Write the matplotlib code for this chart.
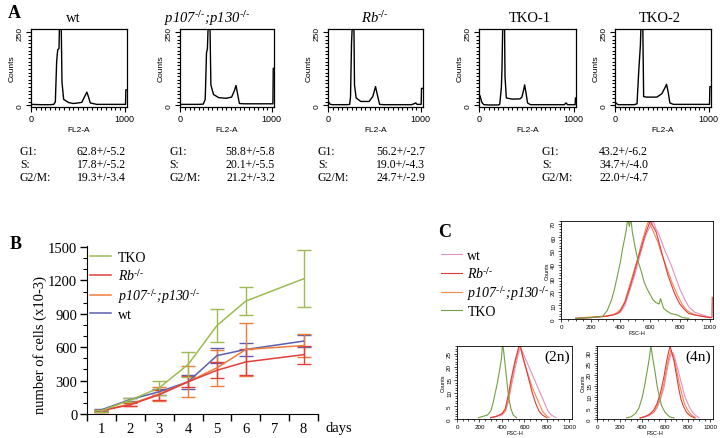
import matplotlib
matplotlib.use("Agg")
import matplotlib.pyplot as plt
from matplotlib.ticker import MultipleLocator, FixedLocator

plt.rcParams['font.family'] = ['Liberation Serif', 'DejaVu Serif']
plt.rcParams['mathtext.fontset'] = 'stix'

W, H = 720, 439

# ---------------- panel A: DNA content histograms (FL2-A) ----------------
sup = r'$^{\text{-/-}}$'
lab_rb = 'Rb' + sup
lab_p107 = 'p107' + sup + ';p130' + sup
hist_titles = ['wt', lab_p107, lab_rb, 'TKO-1', 'TKO-2']
title_italic = [False, True, True, False, False]

wt_fl_x = [0, 100, 200, 240, 256, 270, 281, 295, 302, 318, 327, 345, 400, 450, 500, 540, 570, 594, 615, 630, 700, 800, 900, 1008, 1012, 1024]
wt_fl_y = [3, 2, 2, 3, 12, 150, 190, 195, 300, 300, 80, 20, 9, 6, 8, 10, 30, 45, 25, 8, 3, 3, 3, 3, 53, 53]

p107_fl_x = [0, 100, 200, 250, 271, 285, 295, 306, 322, 333, 362, 420, 500, 560, 590, 608, 625, 645, 700, 800, 900, 1012, 1016, 1024]
p107_fl_y = [3, 3, 3, 4, 20, 180, 194, 300, 300, 70, 37, 26, 24, 28, 50, 68, 40, 6, 5, 5, 5, 5, 127, 127]

rb_fl_x = [0, 15, 40, 100, 200, 230, 239, 250, 262, 275, 282, 300, 350, 440, 480, 510, 530, 554, 600, 700, 900, 934, 945, 960, 1004, 1008, 1024]
rb_fl_y = [12, 4, 2, 2, 2, 3, 30, 216, 300, 300, 70, 25, 13, 13, 30, 64, 35, 3, 2, 2, 2, 6, 8, 3, 3, 58, 58]

tko1_fl_x = [0, 8, 25, 46, 100, 200, 215, 232, 239, 248, 265, 271, 285, 350, 430, 450, 470, 479, 495, 510, 540, 700, 900, 918, 935, 1015, 1018, 1024]
tko1_fl_y = [36, 30, 10, 2, 1, 1, 3, 60, 126, 300, 300, 98, 25, 21, 22, 28, 55, 70, 40, 8, 2, 2, 2, 8, 2, 2, 25, 25]

tko2_fl_x = [0, 10, 30, 100, 200, 231, 250, 267, 276, 292, 302, 330, 444, 498, 530, 548, 565, 583, 620, 800, 1008, 1012, 1024]
tko2_fl_y = [10, 6, 2, 2, 2, 5, 120, 205, 300, 300, 30, 28, 28, 40, 60, 72, 45, 8, 3, 3, 3, 64, 64]

hist_x = [wt_fl_x, p107_fl_x, rb_fl_x, tko1_fl_x, tko2_fl_x]
hist_y = [wt_fl_y, p107_fl_y, rb_fl_y, tko1_fl_y, tko2_fl_y]

phase_names = ['G1:', 'S:', 'G2/M:']
stats = [
    ['62.8+/-5.2', '17.8+/-5.2', '19.3+/-3.4'],
    ['58.8+/-5.8', '20.1+/-5.5', '21.2+/-3.2'],
    ['56.2+/-2.7', '19.0+/-4.3', '24.7+/-2.9'],
    ['43.2+/-6.2', '34.7+/-4.0', '22.0+/-4.7'],
]

# ---------------- panel B: growth curves ----------------
days = [1, 2, 3, 4, 5, 6, 8]
tko_cells = [30, 125, 235, 445, 795, 1015, 1215]
tko_err = [8, 15, 60, 115, 150, 125, 255]
rb_cells = [30, 83, 173, 289, 393, 468, 533]
rb_err = [8, 12, 45, 50, 70, 115, 80]
p107_cells = [30, 90, 180, 289, 415, 580, 615]
p107_err = [8, 15, 60, 140, 160, 240, 100]
wt_cells = [38, 130, 200, 289, 525, 580, 655]
wt_err = [8, 12, 25, 60, 65, 60, 55]

# ---------------- panel C: cell size (FSC-H) ----------------
tko_main_x = [100, 200, 280, 310, 340, 360, 380, 400, 415, 430, 440, 450, 460, 470, 480, 500, 520, 540, 560, 580, 600, 620, 640, 660, 670, 690, 710, 740, 780, 820, 860]
tko_main_y = [0.5, 1, 2, 6, 14, 22, 32, 42, 52, 60, 66, 74, 68, 74, 64, 52, 42, 35, 27, 22, 18, 14, 12, 11, 15, 8, 6, 4, 3, 1, 0.5]
rb_main_x = [100, 200, 300, 350, 380, 400, 430, 460, 490, 520, 540, 560, 580, 600, 620, 640, 660, 680, 700, 720, 740, 760, 780, 800, 830, 860, 900, 950, 1000, 1016, 1018]
rb_main_y = [0.5, 1, 2, 3, 4, 6, 12, 22, 33, 45, 52, 60, 66, 72, 68, 64, 56, 48, 40, 32, 26, 20, 15, 11, 7, 4, 3, 2, 1, 1, 16]
p107_main_x = [100, 200, 300, 350, 380, 400, 430, 460, 490, 520, 540, 560, 575, 590, 610, 630, 650, 670, 690, 710, 730, 750, 770, 790, 820, 850, 900, 950, 1000]
p107_main_y = [0.5, 1.5, 2, 3, 5, 7, 13, 24, 35, 46, 55, 62, 68, 72, 67, 62, 57, 50, 44, 38, 32, 26, 21, 16, 10, 6, 3, 2, 1]
wt_main_x = [100, 200, 300, 350, 380, 400, 430, 460, 490, 520, 540, 560, 580, 600, 620, 640, 660, 680, 700, 720, 740, 760, 780, 800, 830, 860, 900, 950, 1000]
wt_main_y = [0.5, 1, 2, 3, 4, 5, 10, 20, 30, 42, 50, 58, 64, 68, 72, 66, 62, 56, 50, 45, 40, 34, 28, 22, 15, 9, 5, 3, 1.5]

tko_2n_x = [190, 230, 270, 300, 320, 340, 360, 380, 395, 405, 415, 430, 445, 460, 480, 500, 530]
tko_2n_y = [0.5, 1, 1.5, 3, 6, 10, 14, 19, 23, 29, 26, 20, 14, 8, 4, 1.5, 0.5]
rb_2n_x = [300, 350, 400, 430, 460, 480, 500, 520, 540, 555, 570, 590, 610, 640, 670, 700, 730, 760, 800]
rb_2n_y = [0.5, 1, 2, 4, 10, 15, 19, 23, 26, 29, 27, 23, 20, 15, 10, 6, 3, 1.5, 0.5]
p107_2n_x = [300, 350, 400, 430, 460, 480, 500, 520, 540, 550, 565, 585, 610, 640, 670, 700, 730, 760, 790, 820]
p107_2n_y = [0.5, 1, 2, 3, 8, 13, 18, 22, 25, 28, 27, 24, 20, 16, 12, 9, 6, 3, 1.5, 0.5]
wt_2n_x = [300, 350, 400, 430, 460, 480, 500, 520, 540, 560, 580, 600, 630, 660, 690, 720, 750, 780, 810, 840, 880]
wt_2n_y = [0.5, 1, 1.5, 3, 7, 12, 16, 20, 24, 27, 26, 24, 21, 18, 15, 12, 9, 6, 3, 1.5, 0.5]

tko_4n_x = [260, 300, 340, 370, 400, 420, 440, 460, 475, 490, 510, 530, 550, 570, 600, 640, 680]
tko_4n_y = [0.5, 1, 2.5, 5, 10, 15, 21, 27, 33, 28, 22, 15, 10, 6, 3, 1, 0.5]
rb_4n_x = [380, 420, 460, 500, 530, 560, 590, 610, 630, 645, 660, 680, 700, 720, 740, 760, 790, 820, 860]
rb_4n_y = [0.5, 1, 2, 4, 7, 12, 19, 25, 30, 33, 30, 26, 20, 14, 9, 6, 3, 1.5, 0.5]
p107_4n_x = [380, 420, 460, 500, 530, 560, 590, 610, 630, 650, 670, 690, 710, 730, 750, 770, 800, 830, 870]
p107_4n_y = [0.5, 1, 2, 3, 6, 10, 16, 22, 27, 31, 29, 25, 20, 15, 11, 7, 4, 2, 0.5]
wt_4n_x = [380, 420, 460, 500, 530, 560, 590, 610, 630, 650, 670, 690, 710, 730, 750, 770, 800, 830, 860, 900]
wt_4n_y = [0.5, 1, 1.5, 3, 5, 9, 14, 20, 25, 29, 30, 27, 23, 19, 15, 11, 7, 4, 2, 0.5]

c_colors = {'wt': '#e690c0', 'rb': '#e23a3a', 'p107': '#f28a4e', 'tko': '#72a043'}
b_colors = {'tko': '#9dbb4f', 'rb': '#e0403a', 'p107': '#f07c3a', 'wt': '#5c5fb0'}

fig = plt.figure(figsize=(7.2, 4.39), dpi=100)


def add_ax(l, t, r, b):
    return fig.add_axes([l / W, 1 - b / H, (r - l) / W, (b - t) / H])


def ftext(x, y, s, **kw):
    return fig.text(x / W, 1 - y / H, s, **kw)


sans = ['Liberation Sans', 'DejaVu Sans']

# panel A
boxes = [(31, 127), (180, 274), (328, 423), (479, 576), (615, 711)]
title_x = [73, 207, 375, 530, 660]
for i, (l, r) in enumerate(boxes):
    ax = add_ax(l, 30, r, 108)
    ax.plot(hist_x[i], hist_y[i], color='black', lw=1.0)
    ax.set_xlim(-5, 1024)
    ax.set_ylim(-6, 262)
    ax.set_xticks([0, 1000])
    ax.set_yticks([0, 250])
    ax.xaxis.set_minor_locator(MultipleLocator(50))
    ax.yaxis.set_minor_locator(MultipleLocator(12.5))
    ax.tick_params(which='both', direction='out', length=2.5, width=0.8, pad=1.5)
    ax.tick_params(which='major', length=3.5)
    for lab in ax.get_xticklabels():
        lab.set_family(sans)
        lab.set_fontsize(6.5)
    for lab in ax.get_yticklabels():
        lab.set_family(sans)
        lab.set_fontsize(6)
        lab.set_rotation(90)
        lab.set_va('center')
    ax.set_xlabel('FL2-A', family=sans, fontsize=6, labelpad=2)
    ax.set_ylabel('Counts', family=sans, fontsize=6, labelpad=1)
    for sp in ax.spines.values():
        sp.set_linewidth(0.9)
    ftext(title_x[i], 18, hist_titles[i], fontsize=10.5, ha='center', va='center',
          fontstyle='italic' if title_italic[i] else 'normal')

ftext(8, 14, 'A', fontsize=13, fontweight='bold', ha='left', va='center')

stat_cols = [(20, 126), (169, 275), (318, 425), (542, 648)]
row_y = [152, 165, 178]
for (lx, rx), vals in zip(stat_cols, stats):
    for name, v, yy in zip(phase_names, vals, row_y):
        ftext(lx, yy, name, fontsize=8.5, ha='left', va='center')
        ftext(rx, yy, v, fontsize=8.5, ha='right', va='center')

# panel B
axb = add_ax(87, 247, 318, 415)
series = [(wt_cells, wt_err, 'wt', 'wt'), (p107_cells, p107_err, 'p107', lab_p107),
          (rb_cells, rb_err, 'rb', lab_rb), (tko_cells, tko_err, 'tko', 'TKO')]
handles = {}
for vals, err, key, lab in series:
    eb = axb.errorbar(days, vals, yerr=err, color=b_colors[key], lw=1.1,
                      elinewidth=1.0, capsize=5, capthick=1.0, label=lab)
    handles[key] = eb.lines[0]
axb.set_xlim(0.5, 8.5)
axb.set_ylim(0, 1510)
axb.set_xticks(range(1, 9))
axb.xaxis.set_minor_locator(FixedLocator([k + 0.5 for k in range(0, 9)]))
axb.tick_params(axis='x', which='major', length=0, labelsize=10.5, pad=6)
axb.tick_params(axis='x', which='minor', length=5, width=1.0)
axb.set_yticks(range(0, 1501, 300))
axb.yaxis.set_minor_locator(MultipleLocator(100))
axb.tick_params(axis='y', which='major', length=5, width=1.0, labelsize=10.5, pad=2)
axb.tick_params(axis='y', which='minor', length=3, width=0.8)
axb.spines['top'].set_visible(False)
axb.spines['right'].set_visible(False)
ftext(40, 345, 'number of cells (x10-3)', fontsize=10.5, rotation=90, ha='center', va='center')
ftext(325, 429, 'days', fontsize=10.5, ha='left', va='center')
legb = axb.legend([handles['tko'], handles['rb'], handles['p107'], handles['wt']],
                  ['TKO', lab_rb, lab_p107, 'wt'], loc='upper left',
                  bbox_to_anchor=(90 / W, 1 - 252 / H), bbox_transform=fig.transFigure,
                  frameon=False, fontsize=10, handlelength=1.5, handletextpad=0.5,
                  labelspacing=0.22, borderaxespad=0, borderpad=0)
for t in legb.get_texts()[1:3]:
    t.set_fontstyle('italic')
ftext(10, 245, 'B', fontsize=13, fontweight='bold', ha='left', va='center')

# panel C
c_sets = [
    (add_ax(561, 222, 713, 320), [(wt_main_x, wt_main_y), (p107_main_x, p107_main_y), (rb_main_x, rb_main_y), (tko_main_x, tko_main_y)], 72, 10, None),
    (add_ax(457, 347, 572, 420), [(wt_2n_x, wt_2n_y), (p107_2n_x, p107_2n_y), (rb_2n_x, rb_2n_y), (tko_2n_x, tko_2n_y)], 28, 5, '(2n)'),
    (add_ax(597, 347, 713, 420), [(wt_4n_x, wt_4n_y), (p107_4n_x, p107_4n_y), (rb_4n_x, rb_4n_y), (tko_4n_x, tko_4n_y)], 33, 5, '(4n)'),
]
keys = ['wt', 'p107', 'rb', 'tko']
c_handles = {}
for ax, curves, ymax, ystep, tag in c_sets:
    for key, (xs, ys) in zip(keys, curves):
        ln, = ax.plot(xs, ys, color=c_colors[key], lw=0.8)
        c_handles[key] = ln
    ax.set_xlim(0, 1023)
    ax.set_ylim(0, ymax)
    ax.set_xticks(range(0, 1001, 200))
    ax.set_yticks(range(0, int(ymax) + 1, ystep))
    ax.xaxis.set_minor_locator(MultipleLocator(50))
    ax.yaxis.set_minor_locator(MultipleLocator(ystep / 5))
    ax.tick_params(which='both', direction='out', length=1.5, width=0.5, pad=1)
    ax.tick_params(which='major', length=2.5)
    for lab in ax.get_xticklabels() + ax.get_yticklabels():
        lab.set_family(sans)
        lab.set_fontsize(4.5)
    for lab in ax.get_yticklabels():
        lab.set_rotation(90)
        lab.set_va('center')
    ax.set_xlabel('FSC-H', family=sans, fontsize=4, labelpad=1)
    ax.set_ylabel('Counts', family=sans, fontsize=4, labelpad=1)
    for sp in ax.spines.values():
        sp.set_linewidth(0.6)
    if tag:
        ax.text(0.98, 0.95, tag, transform=ax.transAxes, fontsize=11, ha='right', va='top')

legc = fig.legend([c_handles['wt'], c_handles['rb'], c_handles['p107'], c_handles['tko']],
                  ['wt', lab_rb, lab_p107, 'TKO'], loc='upper left',
                  bbox_to_anchor=(441 / W, 1 - 250 / H), frameon=False, fontsize=10,
                  handlelength=1.5, handletextpad=0.4, labelspacing=0.2,
                  borderaxespad=0, borderpad=0)
for t in legc.get_texts()[1:3]:
    t.set_fontstyle('italic')
ftext(438, 233, 'C', fontsize=13, fontweight='bold', ha='left', va='center')

fig.savefig('out.png', dpi=100)
